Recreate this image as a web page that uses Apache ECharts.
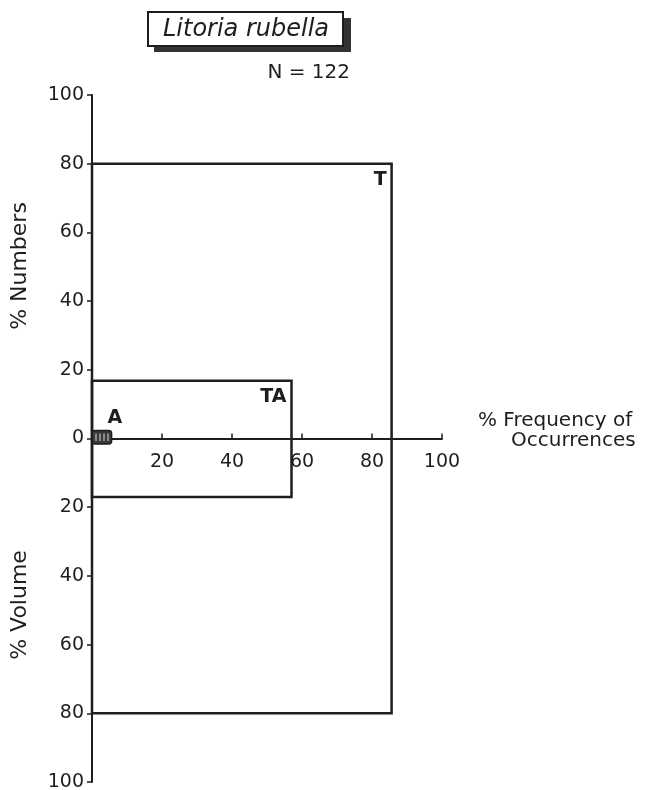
<!DOCTYPE html>
<html>
<head>
<meta charset="utf-8">
<script src="https://cdn.jsdelivr.net/npm/echarts@6/dist/echarts.min.js"></script>
<style>
html,body{margin:0;padding:0;background:#fff;}
#chart{width:668px;height:790px;}
</style>
</head>
<body>
<div id="chart"></div>
<script>
// Data
const categories = ['T', 'TA', 'A'];
const frequency = [85.6, 57, 5.6];     // % Frequency of Occurrences
const numbers = [80, 16.8, 2.3];       // % Numbers (upwards)
const volume = [80, 17, 1.6];          // % Volume (downwards)
const xTicks = [0, 20, 40, 60, 80, 100];
const yTicks = [-100, -80, -60, -40, -20, 0, 20, 40, 60, 80, 100];
const titleText = 'Litoria rubella';
const sampleText = 'N = 122';

const FONT = '"DejaVu Sans", "Liberation Sans", sans-serif';
const INK = '#1e1e1e';

const GRID_TOP = 95, GRID_BOTTOM = 8, CHART_H = 790;
const gridHeight = CHART_H - GRID_TOP - GRID_BOTTOM;

const boxData = categories.map((c, i) => [frequency[i], numbers[i], volume[i], i]);

const chart = echarts.init(document.getElementById('chart'));
chart.setOption({
  backgroundColor: '#fff',
  animation: false,
  grid: { left: 92, right: 226, top: GRID_TOP, bottom: GRID_BOTTOM, containLabel: false, outerBoundsMode: 'none' },
  xAxis: {
    type: 'value',
    position: 'bottom',
    // place the axis on the zero line of the symmetric y range
    offset: -gridHeight / 2,
    min: xTicks[0], max: xTicks[xTicks.length - 1], interval: 20,
    axisLine: { show: true, onZero: false, lineStyle: { color: INK, width: 2 } },
    axisTick: { show: true, inside: true, length: 5, lineStyle: { color: INK, width: 1.5 } },
    axisLabel: {
      show: true, margin: 14, color: INK, fontFamily: FONT, fontSize: 19,
      formatter: v => (v === 0 ? '' : String(v))
    },
    splitLine: { show: false }
  },
  yAxis: {
    type: 'value',
    min: yTicks[0], max: yTicks[yTicks.length - 1], interval: 20,
    axisLine: { show: true, lineStyle: { color: INK, width: 2 } },
    axisTick: { show: true, inside: false, length: 5, lineStyle: { color: INK, width: 1.5 } },
    axisLabel: {
      show: true, margin: 8, color: INK, fontFamily: FONT, fontSize: 19,
      formatter: v => String(Math.abs(v))
    },
    splitLine: { show: false }
  },
  series: [{
    type: 'custom',
    data: boxData,
    clip: false,
    renderItem: function (params, api) {
      const f = api.value(0), n = api.value(1), v = api.value(2), idx = api.value(3);
      const p1 = api.coord([0, n]);
      const p2 = api.coord([f, -v]);
      const x = p1[0], y = p1[1], w = p2[0] - p1[0], h = p2[1] - p1[1];
      const small = w < 40;
      const children = [{
        type: 'rect',
        shape: { x: x, y: y, width: w, height: h, r: small ? 3 : 0 },
        style: { fill: small ? '#3a3a3a' : 'none', stroke: INK, lineWidth: small ? 1.5 : 2.5 }
      }];
      if (small) {
        for (let k = 0; k < 4; k++) {
          children.push({
            type: 'line',
            shape: { x1: x + 4 + k * 4, y1: y + 3, x2: x + 4 + k * 4, y2: y + h - 3 },
            style: { stroke: '#d8d8d8', lineWidth: 1 }
          });
        }
      }
      children.push({
        type: 'text',
        style: {
          text: categories[idx],
          x: small ? p2[0] - 4 : p2[0] - 5,
          y: small ? y - 3 : y + 7,
          align: small ? 'left' : 'right',
          verticalAlign: small ? 'bottom' : 'top',
          font: 'bold 19px ' + FONT,
          fill: INK
        }
      });
      return { type: 'group', children: children };
    }
  }],
  graphic: [
    { type: 'rect', shape: { x: 154, y: 18, width: 197, height: 34 }, style: { fill: '#333' } },
    { type: 'rect', shape: { x: 148, y: 12, width: 195, height: 34 }, style: { fill: '#fff', stroke: INK, lineWidth: 2 } },
    { type: 'text', style: { text: titleText, x: 246, y: 30, align: 'center', verticalAlign: 'middle', font: 'italic 24px ' + FONT, fill: INK } },
    { type: 'text', style: { text: sampleText, x: 350, y: 73, align: 'right', verticalAlign: 'middle', font: '20px ' + FONT, fill: INK } },
    { type: 'text', style: { text: '% Frequency of', x: 478, y: 421, align: 'left', verticalAlign: 'middle', font: '20px ' + FONT, fill: INK } },
    { type: 'text', style: { text: 'Occurrences', x: 511, y: 441, align: 'left', verticalAlign: 'middle', font: '20px ' + FONT, fill: INK } },
    { type: 'text', rotation: Math.PI / 2, x: 20, y: 266, style: { text: '% Numbers', x: 0, y: 0, align: 'center', verticalAlign: 'middle', font: '22px ' + FONT, fill: INK } },
    { type: 'text', rotation: Math.PI / 2, x: 20, y: 605, style: { text: '% Volume', x: 0, y: 0, align: 'center', verticalAlign: 'middle', font: '22px ' + FONT, fill: INK } }
  ]
});
</script>
</body>
</html>
